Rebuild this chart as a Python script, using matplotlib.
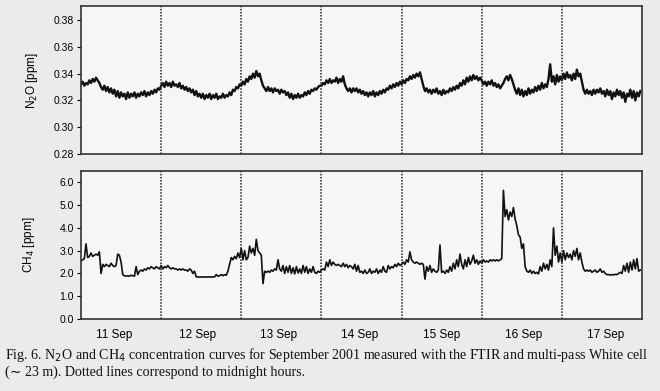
import numpy as np
import matplotlib
matplotlib.use('Agg')
import matplotlib.pyplot as plt

# N2O concentration [ppm], one value every 30 min, one list per day
n2o_sep11 = [0.332, 0.334, 0.331, 0.333, 0.332, 0.335, 0.333, 0.336, 0.334, 0.337, 0.335, 0.333,
             0.330, 0.328, 0.331, 0.327, 0.330, 0.326, 0.329, 0.325, 0.328, 0.323, 0.327, 0.322,
             0.326, 0.323, 0.325, 0.321, 0.326, 0.322, 0.325, 0.323, 0.326, 0.322, 0.325, 0.323,
             0.326, 0.324, 0.327, 0.323, 0.326, 0.324, 0.327, 0.325, 0.328, 0.326, 0.329, 0.328]
n2o_sep12 = [0.331, 0.333, 0.330, 0.334, 0.331, 0.333, 0.330, 0.334, 0.331, 0.332, 0.330, 0.333,
             0.329, 0.331, 0.328, 0.330, 0.327, 0.329, 0.326, 0.328, 0.324, 0.327, 0.323, 0.325,
             0.322, 0.325, 0.321, 0.324, 0.322, 0.325, 0.321, 0.324, 0.322, 0.325, 0.321, 0.323,
             0.322, 0.325, 0.322, 0.324, 0.323, 0.326, 0.324, 0.328, 0.327, 0.330, 0.329, 0.332]
n2o_sep13 = [0.331, 0.334, 0.332, 0.336, 0.334, 0.338, 0.336, 0.340, 0.337, 0.342, 0.338, 0.340,
             0.335, 0.331, 0.329, 0.327, 0.330, 0.327, 0.329, 0.326, 0.329, 0.327, 0.328, 0.325,
             0.328, 0.326, 0.327, 0.324, 0.326, 0.322, 0.325, 0.321, 0.324, 0.322, 0.325, 0.322,
             0.324, 0.323, 0.326, 0.324, 0.327, 0.325, 0.328, 0.327, 0.329, 0.328, 0.330, 0.331]
n2o_sep14 = [0.331, 0.333, 0.332, 0.335, 0.333, 0.336, 0.333, 0.335, 0.334, 0.337, 0.333, 0.336,
             0.334, 0.338, 0.332, 0.329, 0.327, 0.329, 0.326, 0.329, 0.327, 0.329, 0.326, 0.328,
             0.325, 0.327, 0.324, 0.326, 0.323, 0.326, 0.324, 0.327, 0.323, 0.326, 0.324, 0.327,
             0.325, 0.328, 0.326, 0.329, 0.328, 0.331, 0.329, 0.332, 0.330, 0.333, 0.331, 0.334]
n2o_sep15 = [0.332, 0.335, 0.333, 0.336, 0.335, 0.338, 0.336, 0.339, 0.337, 0.340, 0.338, 0.341,
             0.336, 0.331, 0.327, 0.329, 0.326, 0.328, 0.325, 0.328, 0.326, 0.329, 0.325, 0.327,
             0.324, 0.328, 0.325, 0.327, 0.326, 0.329, 0.327, 0.330, 0.328, 0.331, 0.329, 0.333,
             0.331, 0.335, 0.332, 0.337, 0.334, 0.338, 0.335, 0.339, 0.336, 0.338, 0.335, 0.337]
n2o_sep16 = [0.335, 0.332, 0.334, 0.331, 0.334, 0.332, 0.335, 0.331, 0.333, 0.330, 0.332, 0.329,
             0.331, 0.333, 0.336, 0.338, 0.335, 0.339, 0.336, 0.332, 0.328, 0.325, 0.329, 0.324,
             0.328, 0.323, 0.327, 0.324, 0.329, 0.325, 0.328, 0.326, 0.330, 0.327, 0.331, 0.328,
             0.333, 0.329, 0.332, 0.330, 0.336, 0.347, 0.334, 0.338, 0.332, 0.339, 0.334, 0.338]
n2o_sep17 = [0.335, 0.340, 0.336, 0.341, 0.337, 0.339, 0.335, 0.340, 0.336, 0.343, 0.338, 0.340,
             0.334, 0.328, 0.325, 0.328, 0.325, 0.327, 0.324, 0.328, 0.325, 0.328, 0.326, 0.329,
             0.325, 0.327, 0.323, 0.328, 0.324, 0.327, 0.321, 0.326, 0.323, 0.328, 0.324, 0.327,
             0.322, 0.326, 0.319, 0.325, 0.323, 0.328, 0.322, 0.327, 0.320, 0.326, 0.323, 0.327]

# CH4 concentration [ppm], same time base
ch4_sep11 = [2.55, 2.60, 2.65, 3.30, 2.70, 2.75, 2.90, 2.75, 2.80, 2.85, 2.80, 2.95,
             2.00, 2.40, 2.30, 2.40, 2.35, 2.30, 2.45, 2.35, 2.30, 2.35, 2.85, 2.80,
             2.50, 1.95, 1.90, 1.88, 1.90, 1.88, 1.92, 1.90, 1.88, 2.30, 1.95, 2.10,
             2.15, 2.10, 2.20, 2.15, 2.25, 2.20, 2.30, 2.25, 2.20, 2.30, 2.25, 2.20]
ch4_sep12 = [2.35, 2.20, 2.30, 2.25, 2.35, 2.25, 2.20, 2.25, 2.20, 2.20, 2.15, 2.20,
             2.15, 2.20, 2.15, 2.15, 2.10, 2.20, 2.15, 2.00, 2.10, 1.85, 1.85, 1.84,
             1.85, 1.84, 1.85, 1.84, 1.85, 1.85, 1.84, 1.85, 1.85, 1.95, 1.88, 1.90,
             1.95, 1.90, 1.95, 1.92, 2.10, 2.40, 2.70, 2.60, 2.75, 2.65, 2.90, 2.70]
ch4_sep13 = [3.10, 2.60, 3.00, 2.60, 2.70, 3.20, 2.90, 3.10, 2.80, 3.50, 3.00, 2.90,
             2.80, 1.55, 2.10, 2.05, 2.10, 2.05, 2.15, 2.10, 2.20, 2.15, 2.60, 2.20,
             2.10, 2.35, 2.00, 2.30, 2.05, 2.35, 2.00, 2.25, 1.98, 2.30, 2.02, 2.20,
             2.00, 2.35, 2.05, 2.30, 2.00, 2.20, 2.05, 2.30, 2.05, 2.00, 2.10, 2.05]
ch4_sep14 = [2.15, 2.20, 2.15, 2.50, 2.30, 2.60, 2.35, 2.50, 2.40, 2.35, 2.40, 2.35,
             2.30, 2.45, 2.30, 2.40, 2.25, 2.35, 2.30, 2.20, 2.40, 2.10, 2.35, 2.05,
             2.10, 2.00, 2.15, 2.00, 2.05, 2.20, 2.00, 2.10, 2.05, 2.20, 2.00, 2.15,
             2.05, 2.30, 2.10, 2.05, 2.35, 2.20, 2.30, 2.25, 2.40, 2.30, 2.45, 2.35]
ch4_sep15 = [2.40, 2.50, 2.40, 2.60, 2.50, 2.95, 2.60, 2.50, 2.45, 2.50, 2.45, 2.40,
             2.45, 2.40, 1.75, 2.30, 2.10, 2.35, 2.05, 2.20, 2.10, 2.05, 2.15, 3.25,
             2.05, 2.10, 2.00, 2.15, 2.05, 2.30, 2.10, 2.45, 2.20, 2.60, 2.30, 2.85,
             2.40, 2.20, 2.60, 2.30, 2.70, 2.40, 2.55, 2.80, 2.45, 2.60, 2.40, 2.55]
ch4_sep16 = [2.45, 2.60, 2.50, 2.55, 2.50, 2.60, 2.55, 2.60, 2.55, 2.60, 2.55, 2.60,
             2.65, 5.65, 4.50, 4.80, 4.35, 4.70, 4.50, 4.90, 4.40, 4.10, 3.70, 3.60,
             3.10, 3.30, 2.30, 2.10, 2.05, 2.15, 2.00, 2.10, 2.00, 2.05, 1.98, 2.30,
             2.10, 2.45, 2.20, 2.40, 2.15, 2.60, 2.30, 4.00, 2.80, 3.20, 2.50, 2.90]
ch4_sep17 = [2.50, 3.00, 2.60, 2.90, 2.70, 2.85, 2.60, 3.00, 2.75, 3.10, 2.60, 2.90,
             2.50, 2.20, 2.10, 2.15, 2.10, 2.15, 2.05, 2.10, 2.15, 2.05, 2.10, 2.20,
             2.05, 2.10, 2.00, 1.95, 1.95, 1.93, 1.95, 1.94, 1.96, 1.95, 2.00, 2.05,
             2.00, 2.35, 2.10, 2.45, 2.05, 2.50, 2.15, 2.60, 2.20, 2.65, 2.10, 2.15]

day_labels = ['11 Sep', '12 Sep', '13 Sep', '14 Sep', '15 Sep', '16 Sep', '17 Sep']
label_pos = [0.41, 1.45, 2.46, 3.48, 4.50, 5.52, 6.54]

n2o = np.concatenate([n2o_sep11, n2o_sep12, n2o_sep13, n2o_sep14, n2o_sep15, n2o_sep16, n2o_sep17])
ch4 = np.concatenate([ch4_sep11, ch4_sep12, ch4_sep13, ch4_sep14, ch4_sep15, ch4_sep16, ch4_sep17])
t = np.arange(len(n2o)) / 48.   # days since 11 Sep 00:00

plt.rcParams['font.family'] = ['Liberation Sans', 'DejaVu Sans']

fig = plt.figure(figsize=(6.6, 3.91), dpi=100, facecolor='#ebebeb')
ax1 = fig.add_axes([81/660., 1-154/391., 561/660., 148/391.])
ax2 = fig.add_axes([81/660., 1-319/391., 561/660., 148/391.])

ax1.plot(t, n2o, color='#111111', lw=1.7)
ax2.plot(t, ch4, color='#111111', lw=1.2)

for ax in (ax1, ax2):
    ax.set_facecolor('#f6f6f6')
    ax.set_xlim(0, 7)
    for d in range(1, 7):
        ax.axvline(d, color='#222222', lw=1.1, ls=(0, (1, 1)))
    for s in ax.spines.values():
        s.set_linewidth(1.2)
        s.set_color('#333333')
    ax.tick_params(axis='y', direction='out', length=3, width=0.8, labelsize=7.5, pad=2)
    ax.tick_params(axis='x', length=0, labelsize=8.5, pad=7)

ax1.set_ylim(0.28, 0.3905)
ax1.set_yticks([0.28, 0.30, 0.32, 0.34, 0.36, 0.38])
ax1.set_yticklabels(['0.28', '0.30', '0.32', '0.34', '0.36', '0.38'])
ax1.set_xticks([])
ax1.set_ylabel('N$_2$O [ppm]', fontsize=8.5, labelpad=10)

ax2.set_ylim(0, 6.5)
ax2.set_yticks([0, 1, 2, 3, 4, 5, 6])
ax2.set_yticklabels(['0.0', '1.0', '2.0', '3.0', '4.0', '5.0', '6.0'])
ax2.set_xticks(label_pos)
ax2.set_xticklabels(day_labels)
ax2.set_ylabel('CH$_4$ [ppm]', fontsize=8.5, labelpad=16)

caption = ('Fig. 6. N$_2$O and CH$_4$ concentration curves for September 2001 measured with the FTIR and multi-pass White cell\n'
           '(\u223c 23 m). Dotted lines correspond to midnight hours.')
fig.text(5/660., 1-346/391., caption, fontsize=10.1, family=['Liberation Serif', 'DejaVu Serif'],
         va='top', ha='left', linespacing=1.15, color='#111111')

fig.savefig('out.png', dpi=100, facecolor=fig.get_facecolor())
